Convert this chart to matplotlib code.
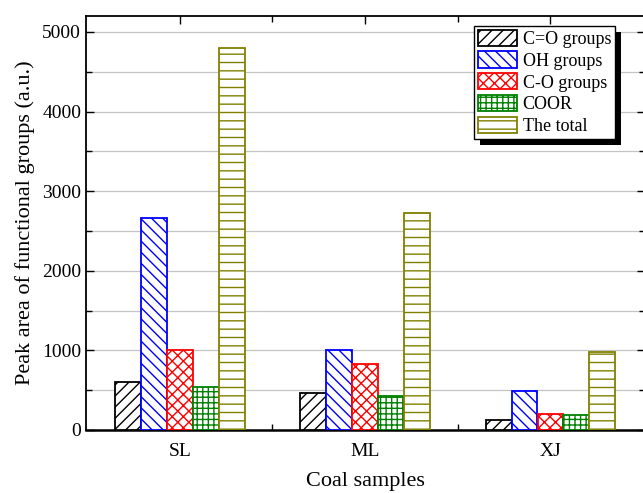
import matplotlib
matplotlib.use("Agg")
import matplotlib.pyplot as plt
from matplotlib.patches import Rectangle
from matplotlib.ticker import MultipleLocator, FixedLocator
import numpy as np

# data
samples = ['SL', 'ML', 'XJ']
co_groups = [600, 462, 125]
oh_groups = [2660, 1010, 484]
c_o_groups = [1000, 825, 196]
coor = [541, 425, 184]
total = [4800, 2725, 984]

series = [co_groups, oh_groups, c_o_groups, coor, total]
names = ['C=O groups', 'OH groups', 'C-O groups', 'COOR', 'The total']
colors = ['black', 'blue', 'red', 'green', '#808000']
hatches = ['///', '\\\\\\', 'xxx', '+++', '--']

plt.rcParams['font.family'] = ['Liberation Serif', 'DejaVu Serif']
plt.rcParams['hatch.linewidth'] = 1.0

fig = plt.figure(figsize=(6.43, 4.93), dpi=100)
ax = fig.add_axes([86/643, 1-430/493, (645-86)/643, (430-16)/493])

x = np.arange(len(samples))
w = 0.14
for i, (vals, nm, c, h) in enumerate(zip(series, names, colors, hatches)):
    ax.bar(x + (i-2)*w, vals, w, color='white', edgecolor=c, hatch=h,
           linewidth=1.3, label=nm, zorder=3)

ax.set_xlim(-0.506, 2.51)
ax.set_ylim(0, 5200)
ax.set_xticks(x)
ax.set_xticklabels(samples)
ax.xaxis.set_minor_locator(FixedLocator([0.5, 1.5]))
ax.yaxis.set_major_locator(MultipleLocator(1000))
ax.yaxis.set_minor_locator(MultipleLocator(500))

ax.grid(axis='y', which='both', color='#c4c4c4', linewidth=0.9, zorder=0)
ax.set_axisbelow(True)

ax.tick_params(which='both', direction='in', top=True, right=True,
               labelsize=14, width=1.0)
ax.tick_params(which='major', length=6)
ax.tick_params(which='minor', length=4)
ax.tick_params(axis='x', pad=9)
for s in ax.spines.values():
    s.set_linewidth(1.3)
ax.spines['bottom'].set_linewidth(1.8)

ax.set_xlabel('Coal samples', fontsize=16, labelpad=9)
ax.set_ylabel('Peak area of functional groups (a.u.)', fontsize=16, labelpad=5)

leg = ax.legend(loc='upper left', bbox_to_anchor=(0.694, 0.976), fontsize=13,
                fancybox=False, edgecolor='black', framealpha=1,
                handlelength=2.2, handleheight=1.0, labelspacing=0.2,
                borderpad=0.2, handletextpad=0.3, borderaxespad=0)
leg.get_frame().set_linewidth(1.0)
leg.set_zorder(6)

# black drop shadow behind the legend box
fig.canvas.draw()
bb = leg.get_window_extent().transformed(ax.transAxes.inverted())
dx = 6 / (ax.bbox.width)
dy = 6 / (ax.bbox.height)
ax.add_patch(Rectangle((bb.x0 + dx, bb.y0 - dy), bb.width, bb.height,
                       transform=ax.transAxes, facecolor='black',
                       edgecolor='none', zorder=5.5, clip_on=False))

fig.savefig('out.png', dpi=100)
